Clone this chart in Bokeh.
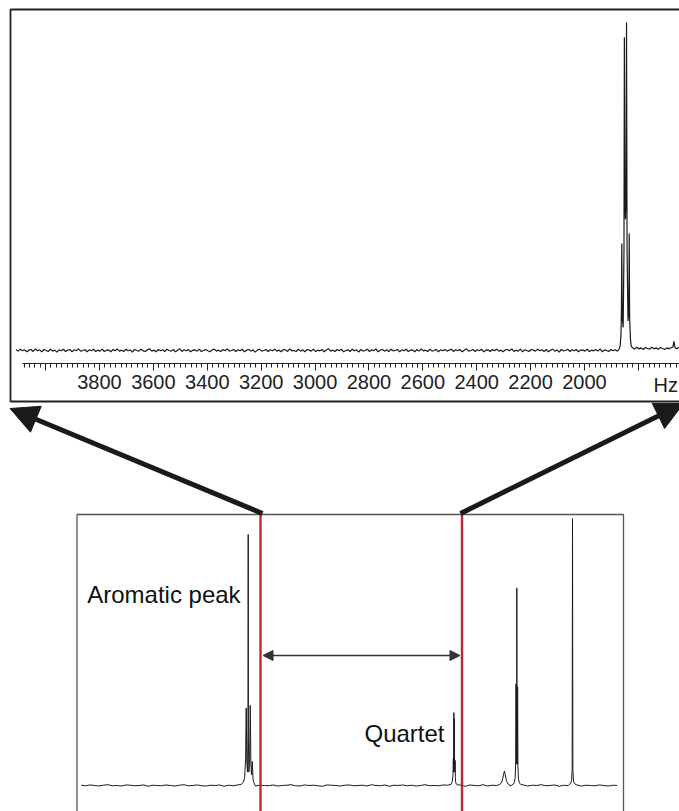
import numpy as np
from bokeh.plotting import figure
from bokeh.models import Range1d, LinearAxis, FixedTicker, Arrow, NormalHead, Label
from bokeh.embed import file_html
from bokeh.resources import INLINE

# ---------------- data ----------------
# Top panel: expanded region, frequency axis in Hz (tick values)
top_major_ticks = [4000, 3800, 3600, 3400, 3200, 3000, 2800, 2600, 2400, 2200, 2000, 1800]
top_hidden_labels = [4000, 1800]
top_unit_label = "Hz"

# baseline noise of the expanded trace (thousandths of the tallest line), 8 Hz apart from 4110 Hz
top_noise = [3, -2, 4, -1, 2, -4, 1, 3, -3, 5, -1, 2, -4, 3, 0, -3, 4, -2, 1, -5,
             2, -1, 4, -3, 1, 3, -4, 2, -1, 5, -2, 0, 3, -4, 2, -1, 4, -3, 1, -2,
             4, -3, 1, 2, -4, 3, -1, 5, -2, 1, -3, 4, -1, 2, -5, 3, 0, -2, 4, -1,
             -3, 2, 5, -2, 1, -4, 3, -1, 2, -3, 4, 0, -2, 3, -4, 1, 5, -3, 2, -1,
             3, -4, 1, 2, -2, 4, -3, 0, 3, -1, -4, 2, 4, -2, 1, -3, 3, -1, 5, -2,
             0, 3, -3, 2, -1, 4, -4, 1, 3, -2, 2, -5, 1, 4, -2, 0, 3, -3, 2, -1,
             4, -2, 1, -4, 3, 2, -3, 5, -1, 0, -3, 4, -2, 2, -4, 3, 1, -2, 4, -3,
             1, -1, 3, -4, 2, 5, -2, 1, -3, 3, -1, 4, -4, 0, 2, -3, 4, -1, 2, -5,
             3, -2, 0, 4, -3, 2, -1, 5, -4, 1, 3, -2, 2, -3, 4, -1, 0, 3, -4, 2,
             -1, 4, -3, 1, 2, -4, 3, -2, 5, -1, 1, -3, 4, -2, 0, 3, -4, 2, -1, 3,
             -2, 1, 4, -3, 2, -1, 3, -4, 1, 5, -2, 0, 3, -3, 2, -1, 4, -4, 1, 2,
             -3, 3, -1, 4, -2, 1, -4, 2, 3, -1, 5, -3, 1, -2, 4, -4, 2, 0, -3, 3,
             1, -2, 4, -1, 2, -3, 3, -4, 1, 4, -2, 2, -5, 3, -1, 0, 4, -3, 2, -1,
             3, -4, 2, 1, -2, 4, -3, 1, -1, 3, -2, 5, -4, 2, 0, -3, 3, -1, 2, -2]
# the quartet (Hz, relative intensity)
top_peak_hz = [1871.5, 1867.5, 1864.5, 1863, 1861.5, 1860, 1856.5, 1853.5, 1852, 1850,
               1848, 1846, 1844, 1842, 1838.5, 1835.5, 1834, 1832.5, 1829.5, 1826.5]
top_peak_int = [0.004, 0.015, 0.05, 0.12, 0.326, 0.10, 0.07, 0.30, 0.955, 0.45,
                0.40, 0.45, 1.0, 0.30, 0.09, 0.12, 0.357, 0.10, 0.035, 0.012]
# baseline to the right of the quartet, with a small spike
top_right_hz = [1822, 1814, 1806, 1798, 1790, 1782, 1774, 1766, 1758, 1750, 1742, 1734,
                1726, 1718, 1710, 1702, 1694, 1686, 1678, 1672, 1668, 1664, 1658, 1652, 1645]
top_right_int = [0.009, 0.004, 0.010, 0.005, 0.008, 0.003, 0.009, 0.006, 0.004, 0.010, 0.005, 0.008,
                 0.004, 0.009, 0.006, 0.003, 0.008, 0.005, 0.009, 0.010, 0.028, 0.008, 0.005, 0.009, 0.006]

# Bottom panel: full spectrum, chemical shift in ppm (0.1 ppm apart from 11.0 ppm)
bot_noise = [1, -1, 2, 0, -2, 1, 3, -1, 0, -2, 2, 1, -1, 0, 2, -3, 1, 0, -1, 2,
             0, -2, 1, 3, -1, 0, 2, -1, -2, 1, 0, 2, -3, 1, -1, 2, 0, -1, 3, -2,
             1, 0, -1, 2, -2, 0, 1, 3, -1, -2, 2, 0, 1, -1, -3, 2, 1, 0, -2, 1,
             2, -1, 0, 1, -2, 3, 0, -1, 2, -3, 1, 0, 2, -1, 1, -2, 0, 3, -1, 0,
             -1, 2, 1, -2, 0, 1, -3, 2, 0, -1, 3, -2, 1, 0, -1, 2, -2, 1, 0, 2,
             -2, 1, 0, 3, -1, 0, 2, -3, 1, -1, 0, 2, -2, 1, 0, -1, 2, 0, -2, 1, 0]
arom_ppm = [7.42, 7.37, 7.34, 7.318, 7.305, 7.292, 7.275, 7.264, 7.260, 7.256,
            7.245, 7.228, 7.214, 7.20, 7.185, 7.17, 7.15, 7.12]
arom_int = [0.004, 0.012, 0.03, 0.10, 0.29, 0.09, 0.05, 0.20, 0.94, 0.18,
            0.05, 0.10, 0.30, 0.08, 0.04, 0.09, 0.02, 0.006]
quart_ppm = [2.72, 2.69, 2.675, 2.668, 2.662, 2.656, 2.650, 2.645, 2.640, 2.634,
             2.628, 2.622, 2.615, 2.60, 2.58]
quart_int = [0.004, 0.015, 0.04, 0.10, 0.05, 0.273, 0.08, 0.25, 0.07, 0.05,
             0.094, 0.03, 0.012, 0.005, 0.003]
water_ppm = [1.64, 1.60, 1.57, 1.545, 1.525, 1.505, 1.48, 1.45, 1.41]
water_int = [0.003, 0.008, 0.02, 0.04, 0.054, 0.04, 0.018, 0.007, 0.003]
trip_ppm = [1.33, 1.30, 1.283, 1.272, 1.265, 1.258, 1.252, 1.247, 1.242, 1.236,
            1.229, 1.222, 1.21, 1.19, 1.16]
trip_int = [0.004, 0.012, 0.03, 0.09, 0.38, 0.08, 0.10, 0.74, 0.10, 0.08,
            0.37, 0.07, 0.025, 0.01, 0.004]
tms_ppm = [0.08, 0.04, 0.02, 0.008, 0.0, -0.008, -0.02, -0.04, -0.08]
tms_int = [0.003, 0.008, 0.02, 0.06, 1.0, 0.06, 0.02, 0.008, 0.003]

labels_text = ["Aromatic peak", "Quartet"]

# ---------------- build traces ----------------
top_base_hz = 4110 - 8 * np.arange(len(top_noise))
top_x = list(top_base_hz) + top_peak_hz + top_right_hz
top_y = [v / 1000 for v in top_noise] + top_peak_int + top_right_int

bot_base_ppm = 11.0 - 0.1 * np.arange(len(bot_noise))
clusters = [(arom_ppm, arom_int), (quart_ppm, quart_int), (water_ppm, water_int),
            (trip_ppm, trip_int), (tms_ppm, tms_int)]
pts = []
for x, n in zip(bot_base_ppm, bot_noise):
    if not any(min(cx) <= x <= max(cx) for cx, _ in clusters):
        pts.append((x, n / 1000))
for cx, cy in clusters:
    pts += list(zip(cx, cy))
pts.sort(key=lambda t: -t[0])
bot_x = [t[0] for t in pts]
bot_y = [t[1] for t in pts]

# ---------------- figure ----------------
W, H = 679, 811
FONT = "Liberation Sans"
INK = "#1a1a1a"
RED = "#c1272d"

p = figure(width=W, height=H, x_range=Range1d(0, W), y_range=Range1d(H, 0),
           x_axis_type=None, y_axis_type=None, toolbar_location=None,
           output_backend="svg", min_border=0, outline_line_color=None,
           background_fill_color="white", border_fill_color="white")
p.extra_x_ranges = {"top": Range1d(4167.4, 1647.4), "bot": Range1d(12.805, -2.395)}
p.extra_y_ranges = {"top": Range1d(-1.4055, 1.067), "bot": Range1d(-0.0974, 2.940)}

# panel frames
p.quad(left=10, right=720, top=9, bottom=401, fill_color=None, line_color="#222222", line_width=1.8)
p.quad(left=76.5, right=623, top=514, bottom=840, fill_color=None, line_color="#555555", line_width=1.3)

# spectra
p.line(top_x, top_y, x_range_name="top", y_range_name="top", line_color=INK, line_width=1.2)
p.line(bot_x, bot_y, x_range_name="bot", y_range_name="bot", line_color=INK, line_width=1)

# frequency axis of the expanded panel
minor = list(range(1660, 4100, 20))
ax = LinearAxis(x_range_name="top", fixed_location=362.7, bounds=(1647, 4086),
                ticker=FixedTicker(ticks=top_major_ticks, minor_ticks=minor),
                major_label_overrides={t: "" for t in top_hidden_labels})
ax.axis_line_color = "#222222"
ax.axis_line_width = 1
ax.major_tick_line_color = "#222222"
ax.major_tick_out = 7
ax.major_tick_in = 0
ax.minor_tick_line_color = "#222222"
ax.minor_tick_out = 4
ax.minor_tick_in = 0
ax.major_label_text_font = FONT
ax.major_label_text_font_size = "20px"
ax.major_label_text_color = "#222222"
ax.major_label_standoff = 5
p.add_layout(ax, "below")

p.add_layout(Label(x=653, y=384.5, text=top_unit_label, text_font=FONT, text_font_size="20px",
                   text_color="#222222", text_baseline="middle", text_align="left"))

# selection lines
p.segment(x0=[260, 461.5], y0=[514, 514], x1=[260, 461.5], y1=[811, 811],
          line_color=RED, line_width=2.4)

# zoom arrows
p.add_layout(Arrow(end=NormalHead(size=28, fill_color=INK, line_color=INK),
                   x_start=262, y_start=513, x_end=9.5, y_end=408,
                   line_width=5, line_color=INK))
p.add_layout(Arrow(end=NormalHead(size=28, fill_color=INK, line_color=INK),
                   x_start=460, y_start=513, x_end=683, y_end=403,
                   line_width=5, line_color=INK))

# double arrow between the selection lines
p.add_layout(Arrow(start=NormalHead(size=10, fill_color="#333333", line_color="#333333"),
                   end=NormalHead(size=10, fill_color="#333333", line_color="#333333"),
                   x_start=262.5, y_start=655, x_end=459.5, y_end=655,
                   line_width=1.3, line_color="#333333"))

# peak labels
p.add_layout(Label(x=86.7, y=594.3, text=labels_text[0], text_font=FONT, text_font_size="24px",
                   text_color="#111111", text_baseline="alphabetic"))
p.add_layout(Label(x=364, y=733.3, text=labels_text[1], text_font=FONT, text_font_size="24px",
                   text_color="#111111", text_baseline="alphabetic"))

open("out.html", "w").write(file_html(p, INLINE))
